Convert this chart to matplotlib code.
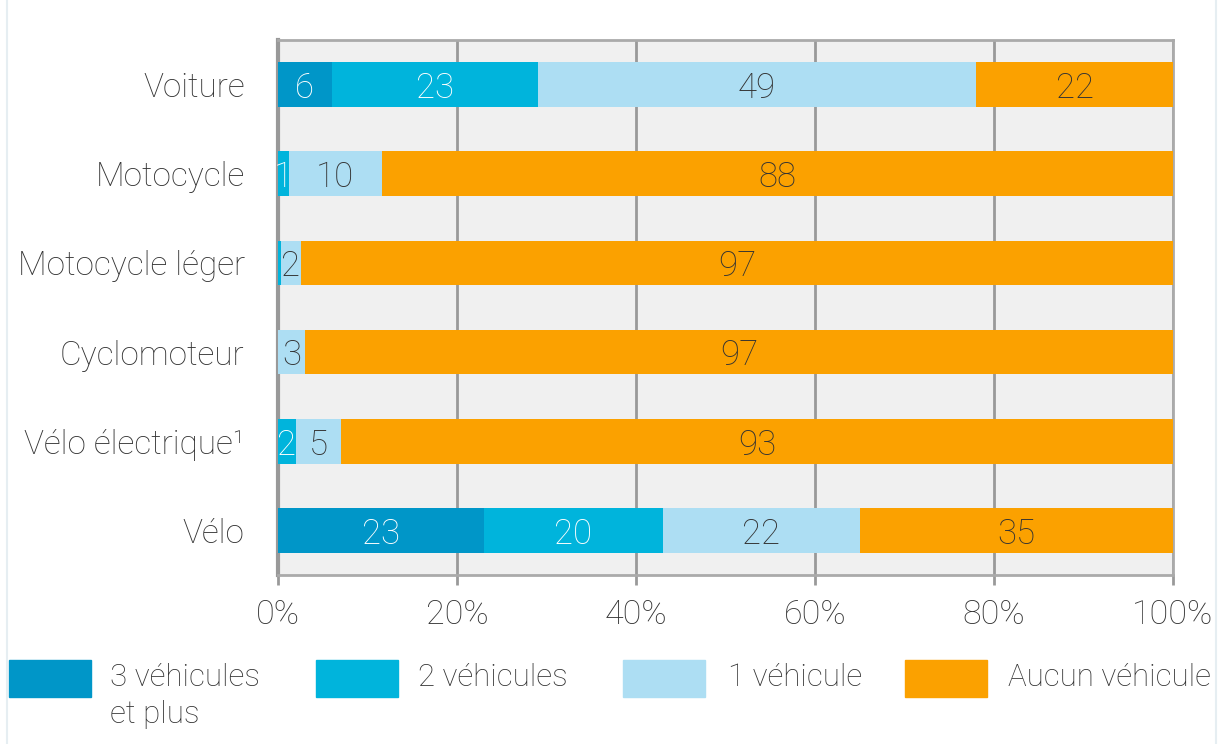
import matplotlib.pyplot as plt
from matplotlib.patches import Rectangle
from matplotlib.lines import Line2D
import numpy as np

plt.rcParams['font.family'] = ['Roboto', 'DejaVu Sans']

categories = ["Voiture", "Motocycle", "Motocycle léger", "Cyclomoteur",
              "Vélo électrique¹", "Vélo"]
trois = [6, 0, 0, 0, 0, 23]
deux = [23, 1.2, 0.3, 0, 2, 20]
un = [49, 10.4, 2.3, 3, 5, 22]
aucun = [22, 88.4, 97.4, 97, 93, 35]

series = [trois, deux, un, aucun]
legend_labels = ["3 véhicules\net plus", "2 véhicules", "1 véhicule", "Aucun véhicule"]
colors = ["#0096C8", "#00B4DC", "#ADDEF3", "#FBA100"]
text_colors = ["white", "white", "#333333", "#333333"]
xticks = [0, 20, 40, 60, 80, 100]

fig = plt.figure(figsize=(12.29, 7.44), dpi=100)
ax = fig.add_axes([278 / 1229, 1 - 575 / 744, (1173 - 278) / 1229, (575 - 40) / 744])
ax.set_facecolor("#F0F0F0")

y = np.arange(len(categories))
left = np.zeros(len(categories))
for vals, col, tcol in zip(series, colors, text_colors):
    vals = np.array(vals, dtype=float)
    ax.barh(y, vals, left=left, height=0.5, color=col, zorder=3)
    for yi, v, l in zip(y, vals, left):
        if round(v) > 0:
            ax.text(l + v / 2, yi + 0.04, f"{round(v)}", ha="center", va="center",
                    color=tcol, fontsize=25, fontweight="light", zorder=4)
    left += vals

ax.set_xlim(0, 100)
ax.set_ylim(len(categories) - 0.5, -0.5)
ax.set_yticks(y)
ax.set_yticklabels(categories, fontsize=24, fontweight="light", color="#333333")
ax.set_xticks(xticks)
ax.set_xticklabels([f"{t}%" for t in xticks], fontsize=24.5, fontweight="light", color="#333333")
ax.tick_params(axis="y", length=0, pad=24)
ax.tick_params(axis="x", length=7, color="#999999", width=2, pad=10)
ax.grid(axis="x", color="#999999", linewidth=2, zorder=1)
for side in ["top", "right", "bottom"]:
    ax.spines[side].set_color("#AAAAAA")
    ax.spines[side].set_linewidth(2)
ax.spines["left"].set_color("#999999")
ax.spines["left"].set_linewidth(3)

# legend
lx = [9, 316, 623, 905]
tx = [110, 418, 728, 1008]
for px, ptx, col, lab in zip(lx, tx, colors, legend_labels):
    fig.patches.append(Rectangle((px / 1229, 1 - 697 / 744), 82 / 1229, 37 / 744,
                                 transform=fig.transFigure, color=col))
    fig.text(ptx / 1229, 1 - 663 / 744, lab, ha="left", va="top", fontsize=22.5,
             fontweight="light", color="#333333", linespacing=1.35)

# faint frame lines
fig.add_artist(Line2D([7 / 1229, 7 / 1229], [0, 1], color="#E6EEF2", lw=1.5))
fig.add_artist(Line2D([1216 / 1229, 1216 / 1229], [0, 1], color="#E6EEF2", lw=1.5))

fig.savefig("out.png", dpi=100)
